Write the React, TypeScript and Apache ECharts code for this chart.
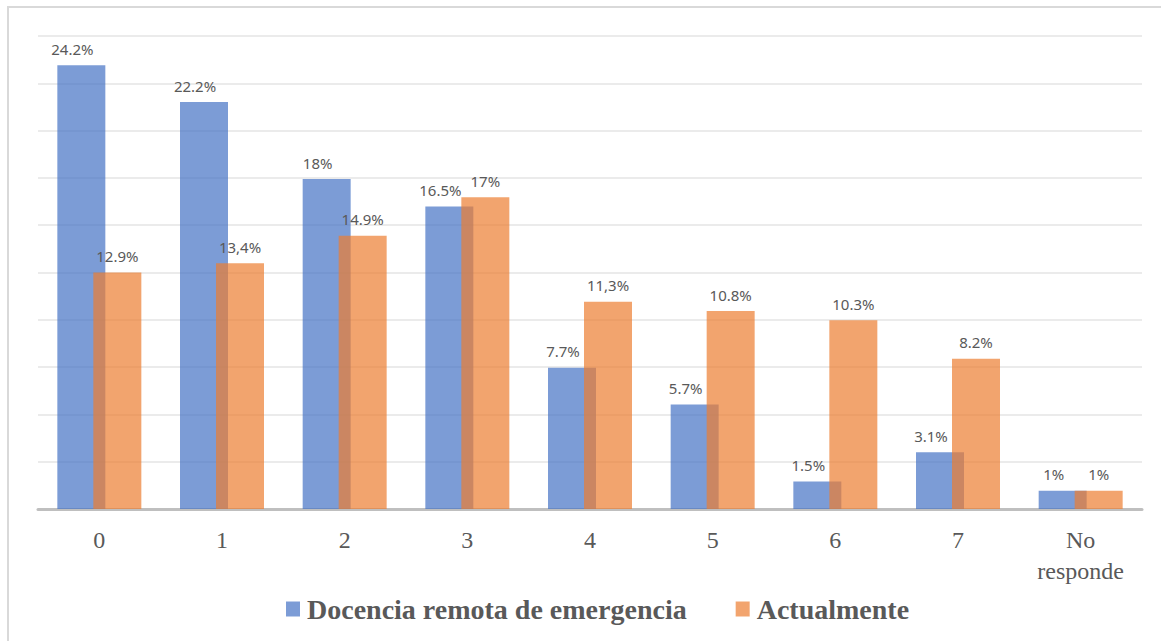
import React, { useEffect, useRef } from "react";
import * as echarts from "echarts";

const categories = ["0", "1", "2", "3", "4", "5", "6", "7", "No\nresponde"];
const seriesNames = ["Docencia remota de emergencia", "Actualmente"];
const remota = [24.2, 22.2, 18, 16.5, 7.7, 5.7, 1.5, 3.1, 1];
const actual = [12.9, 13.4, 14.9, 17, 11.3, 10.8, 10.3, 8.2, 1];
const remotaLabels = ["24.2%", "22.2%", "18%", "16.5%", "7.7%", "5.7%", "1.5%", "3.1%", "1%"];
const actualLabels = ["12.9%", "13,4%", "14.9%", "17%", "11,3%", "10.8%", "10.3%", "8.2%", "1%"];
const axisMax = 25.8;
const axisInterval = 2.58;

export default function App() {
  const ref = useRef<HTMLDivElement>(null);
  useEffect(() => {
    if (!ref.current) return;
    const chart = echarts.init(ref.current, null, { renderer: "svg" });
    const labelFont = {
      show: true,
      position: "top" as const,
      distance: 9,
      color: "#595959",
      fontSize: 15,
      fontFamily: "'Noto Sans', sans-serif",
    };
    chart.setOption({
      animation: false,
      backgroundColor: "#ffffff",
      graphic: [
        {
          type: "rect",
          shape: { x: 8, y: 7, width: 1200, height: 700 },
          style: { fill: "none", stroke: "#d9d9d9", lineWidth: 2 },
          silent: true,
        },
      ],
      grid: { left: 38, right: 19, top: 36, bottom: 132, containLabel: false },
      legend: {
        top: 590,
        left: 281,
        itemWidth: 14,
        itemHeight: 15,
        itemGap: 49,
        icon: "rect",
        textStyle: {
          color: "#595959",
          fontSize: 28,
          fontWeight: "bold",
          fontFamily: "'Liberation Serif', serif",
          padding: [0, 0, 0, 2],
        },
        data: seriesNames,
      },
      xAxis: {
        type: "category",
        data: categories,
        axisLine: { lineStyle: { color: "#bfbfbf", width: 3 } },
        axisTick: { show: false },
        axisLabel: {
          interval: 0,
          color: "#595959",
          fontSize: 24,
          fontFamily: "'Liberation Serif', serif",
          margin: 15,
          lineHeight: 31,
        },
      },
      yAxis: {
        type: "value",
        min: 0,
        max: axisMax,
        interval: axisInterval,
        axisLabel: { show: false },
        axisLine: { show: false },
        axisTick: { show: false },
        splitLine: { lineStyle: { color: "#ebebeb", width: 2 } },
      },
      series: [
        {
          name: seriesNames[0],
          type: "bar",
          data: remota,
          barWidth: 48,
          barGap: "-25%",
          itemStyle: { color: "rgba(68,114,196,0.7)" },
          label: {
            ...labelFont,
            offset: [-9, 0],
            formatter: (p: any) => remotaLabels[p.dataIndex],
          },
        },
        {
          name: seriesNames[1],
          type: "bar",
          data: actual,
          barWidth: 48,
          barGap: "-25%",
          itemStyle: { color: "rgba(237,125,49,0.7)" },
          label: {
            ...labelFont,
            formatter: (p: any) => actualLabels[p.dataIndex],
          },
        },
      ],
    });
    return () => chart.dispose();
  }, []);
  return (
    <div
      ref={ref}
      style={{ position: "absolute", left: 0, top: 0, width: 1161, height: 641 }}
    />
  );
}
